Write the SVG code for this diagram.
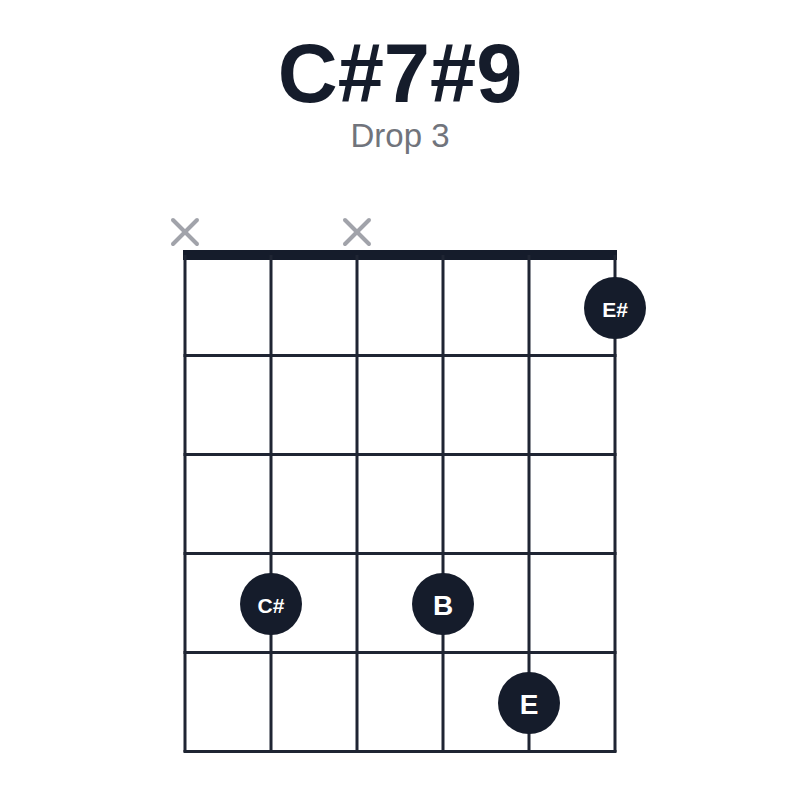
<svg xmlns="http://www.w3.org/2000/svg" width="800" height="800" viewBox="0 0 800 800">
<style>
.title{font-family:"Liberation Sans",Arial,sans-serif;font-weight:bold;font-size:83px;fill:#151c2b;text-anchor:middle}
.sub{font-family:"Liberation Sans",Arial,sans-serif;font-size:33px;fill:#71747c;text-anchor:middle}
.str{stroke:#1f2533;stroke-width:3}
.x{stroke:#a1a3aa;stroke-width:4;stroke-linecap:round}
.dot{fill:#151c2b}
.lbl{font-family:"Liberation Sans",Arial,sans-serif;fill:#ffffff;text-anchor:middle;dominant-baseline:central}
.sm{font-size:21px;font-weight:bold}
.lg{font-size:28px;font-weight:bold}
</style>
<rect width="800" height="800" fill="#ffffff"/>
<text class="title" x="400" y="102">C#7#9</text>
<text class="sub" x="400" y="147">Drop 3</text>
<g id="grid">
<rect x="183" y="250" width="434" height="10" fill="#151c2b"/>
<line class="str" x1="185" y1="255" x2="185" y2="752"/>
<line class="str" x1="271" y1="255" x2="271" y2="752"/>
<line class="str" x1="357" y1="255" x2="357" y2="752"/>
<line class="str" x1="443" y1="255" x2="443" y2="752"/>
<line class="str" x1="529" y1="255" x2="529" y2="752"/>
<line class="str" x1="615" y1="255" x2="615" y2="752"/>
<line class="str" x1="183.5" y1="355.5" x2="616.5" y2="355.5"/>
<line class="str" x1="183.5" y1="454.5" x2="616.5" y2="454.5"/>
<line class="str" x1="183.5" y1="553.5" x2="616.5" y2="553.5"/>
<line class="str" x1="183.5" y1="652.5" x2="616.5" y2="652.5"/>
<line class="str" x1="183.5" y1="751.5" x2="616.5" y2="751.5"/>
</g>
<g id="mute1"><line class="x" x1="173" y1="220" x2="197" y2="244"/><line class="x" x1="197" y1="220" x2="173" y2="244"/></g>
<g id="mute3"><line class="x" x1="345" y1="220" x2="369" y2="244"/><line class="x" x1="369" y1="220" x2="345" y2="244"/></g>
<g id="dot-Esharp"><circle class="dot" cx="615" cy="308" r="31"/><text class="lbl sm" x="615" y="309">E#</text></g>
<g id="dot-Csharp"><circle class="dot" cx="271" cy="604" r="31"/><text class="lbl sm" x="271" y="605">C#</text></g>
<g id="dot-B"><circle class="dot" cx="443" cy="604" r="31"/><text class="lbl lg" x="443" y="605">B</text></g>
<g id="dot-E"><circle class="dot" cx="529" cy="703" r="31"/><text class="lbl lg" x="529" y="704">E</text></g>
</svg>
